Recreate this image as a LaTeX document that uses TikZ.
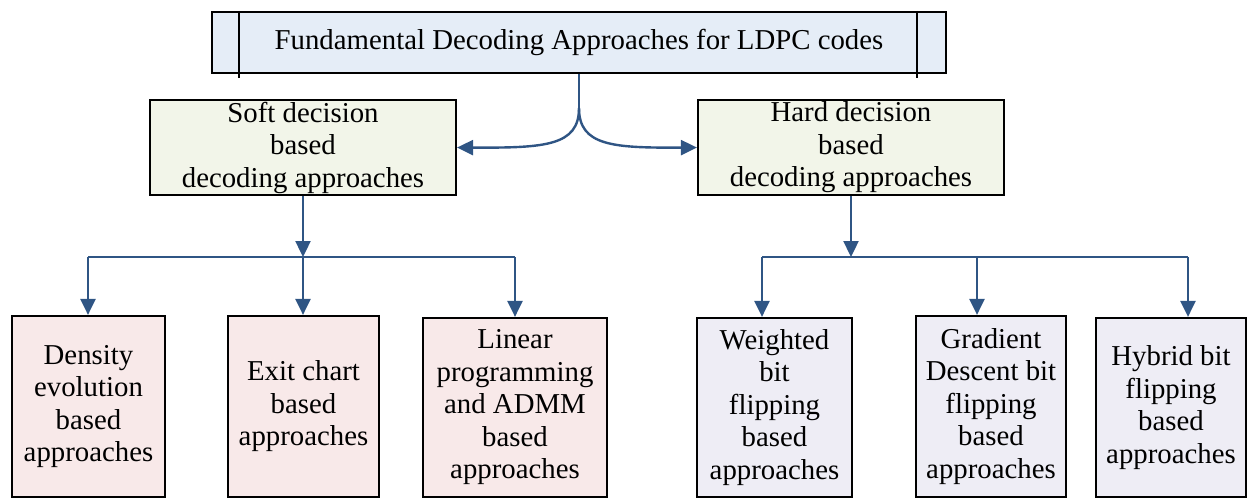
\documentclass[tikz,border=0pt]{standalone}
\usepackage{fontspec}
\setmainfont{Liberation Serif}
\usetikzlibrary{arrows.meta,calc}
\definecolor{linkblue}{HTML}{2F5584}
\definecolor{titlefill}{HTML}{E5EDF7}
\definecolor{midfill}{HTML}{F2F5E9}
\definecolor{softfill}{HTML}{F8E9E9}
\definecolor{hardfill}{HTML}{EEEDF5}
\begin{document}
\begin{tikzpicture}[x=1pt,y=-1pt,
  box/.style={draw=black, line width=2.2pt, align=center, inner sep=0pt,
              font=\fontsize{28.8}{32.5}\selectfont},
  leafsoft/.style={box, fill=softfill, minimum height=181pt},
  leafhard/.style={box, fill=hardfill, minimum height=179pt},
  link/.style={draw=linkblue, line width=2.4pt, -{Triangle[length=16pt,width=15pt]}},
  bar/.style={draw=linkblue, line width=2.4pt}]
\useasboundingbox (0,0) rectangle (1248,500);

% title box with inner side rules
\node[box, fill=titlefill, minimum width=734pt, minimum height=61pt] (top) at (579,42.5)
  {Fundamental Decoding Approaches for LDPC codes};
\draw[line width=2.2pt] ($(top.north west)+(28,0)$) -- ($(top.south west)+(28,4)$);
\draw[line width=2.2pt] ($(top.north east)+(-30,0)$) -- ($(top.south east)+(-30,4)$);

% second level
\node[box, fill=midfill, minimum width=306pt, minimum height=95pt] (soft) at (303,147.5)
  {Soft decision\\based\\decoding approaches};
\node[box, fill=midfill, minimum width=306pt, minimum height=95pt] (hard) at (851,147.5)
  {Hard decision\\based\\decoding approaches};

% leaves
\node[leafsoft, minimum width=153pt] (l1) at (88.5,406.5) {Density\\evolution\\based\\approaches};
\node[leafsoft, minimum width=151pt] (l2) at (303.5,406.5) {Exit chart\\based\\approaches};
\node[leafsoft, minimum width=184pt, minimum height=179pt] (l3) at (515,407.5) {Linear\\programming\\and ADMM\\based\\approaches};
\node[leafhard, minimum width=155pt] (l4) at (774.5,407.5) {Weighted\\bit\\flipping\\based\\approaches};
\node[leafhard, minimum width=150pt, minimum height=181pt] (l5) at (991,406.5) {Gradient\\Descent bit\\flipping\\based\\approaches};
\node[leafhard, minimum width=150pt] (l6) at (1171,407.5) {Hybrid bit\\flipping\\based\\approaches};

% split from the title to both decision boxes
\coordinate (split) at (top.south |- 0,108);
\draw[bar] (top.south) -- (split);
\draw[link] (split) .. controls (579,146) and (545,148) .. (soft.east);
\draw[link] (split) .. controls (579,146) and (613,148) .. (hard.east -| hard.west);

% soft branch
\coordinate (sj) at (soft.south |- 0,257);
\coordinate (s1) at (88,257);
\coordinate (s3) at (515,257);
\draw[link] (soft.south) -- (sj);
\draw[bar] (s1) -- (s3);
\draw[link] (s1) -- (s1 |- l1.north);
\draw[link] (sj) -- (sj |- l2.north);
\draw[link] (s3) -- (s3 |- l3.north);

% hard branch
\coordinate (hj) at (hard.south |- 0,257);
\coordinate (h1) at (762,257);
\coordinate (h2) at (977,257);
\coordinate (h3) at (1188,257);
\draw[link] (hard.south) -- (hj);
\draw[bar] (h1) -- (h3);
\draw[link] (h1) -- (h1 |- l4.north);
\draw[link] (h2) -- (h2 |- l5.north);
\draw[link] (h3) -- (h3 |- l6.north);
\end{tikzpicture}
\end{document}
